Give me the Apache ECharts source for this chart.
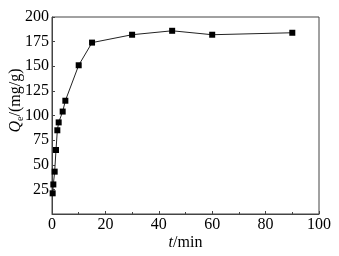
<!DOCTYPE html>
<html>
<head>
<meta charset="utf-8">
<script src="https://cdn.jsdelivr.net/npm/echarts@6/dist/echarts.min.js"></script>
<style>
  html, body { margin: 0; padding: 0; background: #fff; }
  #chart { width: 339px; height: 256px; }
</style>
</head>
<body>
<div id="chart"></div>
<script>
// adsorption time (min) and capacity Qe (mg/g)
let times = [0.25, 0.5, 1, 1.5, 2, 2.5, 4, 5, 10, 15, 30, 45, 60, 90];
let qe = [21, 30, 43, 65, 85, 93, 104, 115, 151, 174, 182, 186, 182, 184];

let chart = echarts.init(document.getElementById('chart'));

let font = 'Liberation Serif';

option = {
  animation: false,
  grid: {
    left: 52, right: 20, top: 17, bottom: 42,
    outerBoundsMode: 'none',
    containLabel: false,
    show: true, borderColor: '#444', borderWidth: 1
  },
  xAxis: {
    type: 'value',
    min: 0, max: 100, interval: 20,
    name: '{i|t}/min',
    nameLocation: 'middle',
    nameMoveOverlap: false,
    nameGap: 21,
    nameTextStyle: {
      fontFamily: font, fontSize: 16, color: '#000',
      rich: { i: { fontStyle: 'italic', fontFamily: font, fontSize: 16 } }
    },
    axisLine: { lineStyle: { color: '#444', width: 1 } },
    axisTick: { inside: true, length: 3, lineStyle: { color: '#444' } },
    minorTick: { show: true, splitNumber: 2, length: 2, lineStyle: { color: '#444' } },
    axisLabel: { fontFamily: font, fontSize: 16, color: '#000', margin: 3 },
    splitLine: { show: false }
  },
  yAxis: {
    type: 'value',
    min: 0, max: 200, interval: 25,
    name: '{i|Q}{s|e}/(mg/g)',
    nameLocation: 'middle',
    nameMoveOverlap: false,
    nameGap: 27,
    nameTextStyle: {
      fontFamily: font, fontSize: 16, color: '#000',
      padding: [0, 0, 0, 30],
      rich: {
        i: { fontStyle: 'italic', fontFamily: font, fontSize: 16 },
        s: { fontFamily: font, fontSize: 10, verticalAlign: 'bottom', padding: [8, 0, 0, 0] }
      }
    },
    axisLine: { lineStyle: { color: '#444', width: 1 } },
    axisTick: { inside: true, length: 3, lineStyle: { color: '#444' } },
    axisLabel: {
      fontFamily: font, fontSize: 16, color: '#000', margin: 3,
      formatter: function (v) { return v === 0 ? '' : v; }
    },
    splitLine: { show: false }
  },
  series: [
    {
      type: 'line',
      data: times.map(function (t, i) { return [t, qe[i]]; }),
      symbol: 'rect',
      symbolSize: 6,
      itemStyle: { color: '#000' },
      lineStyle: { color: '#222', width: 1 }
    }
  ]
};

chart.setOption(option);
</script>
</body>
</html>
